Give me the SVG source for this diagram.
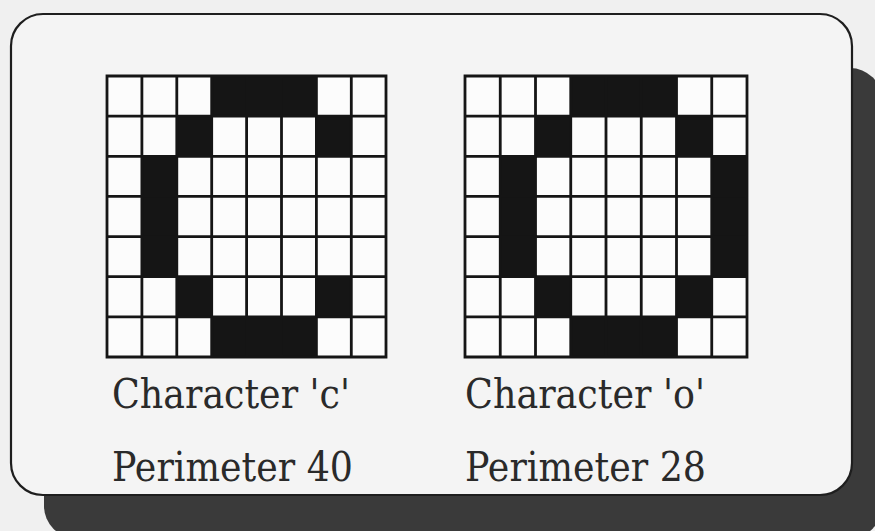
<svg xmlns="http://www.w3.org/2000/svg" width="875" height="531" viewBox="0 0 875 531">
<style>
.bg{fill:#f0f0f0}
.shadow{fill:#3a3a3a}
.panel{fill:#f4f4f4;stroke:#1e1e1e;stroke-width:2.2}
.cellbg{fill:#fcfcfc}
.on{fill:#151515}
.grid{stroke:#151515;stroke-width:2.8;fill:none}
.lbl{font-family:"DejaVu Serif","Liberation Serif",serif;font-size:41px;fill:#2a2a2a}
</style>
<rect class="bg" x="0" y="0" width="875" height="531"/>
<rect class="shadow" x="44" y="68" width="838" height="470" rx="32" ry="32"/>
<rect class="panel" x="11" y="14" width="841" height="481" rx="32" ry="32"/>

<g id="grid-c">
  <rect class="cellbg" x="107" y="76" width="279" height="281"/>
  <g class="on">
    <rect x="211.7" y="76" width="104.7" height="40.1"/>
    <rect x="176.8" y="116.1" width="34.9" height="40.1"/>
    <rect x="316.4" y="116.1" width="34.9" height="40.1"/>
    <rect x="141.9" y="156.3" width="34.9" height="120.4"/>
    <rect x="176.8" y="276.7" width="34.9" height="40.1"/>
    <rect x="316.4" y="276.7" width="34.9" height="40.1"/>
    <rect x="211.7" y="316.9" width="104.7" height="40.1"/>
  </g>
  <path class="grid" d="M107 76H386V357H107Z M141.9 76V357 M176.8 76V357 M211.7 76V357 M246.6 76V357 M281.5 76V357 M316.4 76V357 M351.3 76V357 M107 116.1H386 M107 156.3H386 M107 196.4H386 M107 236.6H386 M107 276.7H386 M107 316.9H386"/>
</g>

<g id="grid-o">
  <rect class="cellbg" x="465" y="76" width="282" height="281"/>
  <g class="on">
    <rect x="570.75" y="76" width="105.75" height="40.1"/>
    <rect x="535.5" y="116.1" width="35.25" height="40.1"/>
    <rect x="676.5" y="116.1" width="35.25" height="40.1"/>
    <rect x="500.25" y="156.3" width="35.25" height="120.4"/>
    <rect x="711.75" y="156.3" width="35.25" height="120.4"/>
    <rect x="535.5" y="276.7" width="35.25" height="40.1"/>
    <rect x="676.5" y="276.7" width="35.25" height="40.1"/>
    <rect x="570.75" y="316.9" width="105.75" height="40.1"/>
  </g>
  <path class="grid" d="M465 76H747V357H465Z M500.25 76V357 M535.5 76V357 M570.75 76V357 M606 76V357 M641.25 76V357 M676.5 76V357 M711.75 76V357 M465 116.1H747 M465 156.3H747 M465 196.4H747 M465 236.6H747 M465 276.7H747 M465 316.9H747"/>
</g>

<g id="label-c">
  <text class="lbl" x="112" y="408" textLength="238" lengthAdjust="spacingAndGlyphs">Character 'c'</text>
  <text class="lbl" x="112" y="481" textLength="241" lengthAdjust="spacingAndGlyphs">Perimeter 40</text>
</g>
<g id="label-o">
  <text class="lbl" x="465" y="408" textLength="240" lengthAdjust="spacingAndGlyphs">Character 'o'</text>
  <text class="lbl" x="465" y="481" textLength="241" lengthAdjust="spacingAndGlyphs">Perimeter 28</text>
</g>
</svg>
